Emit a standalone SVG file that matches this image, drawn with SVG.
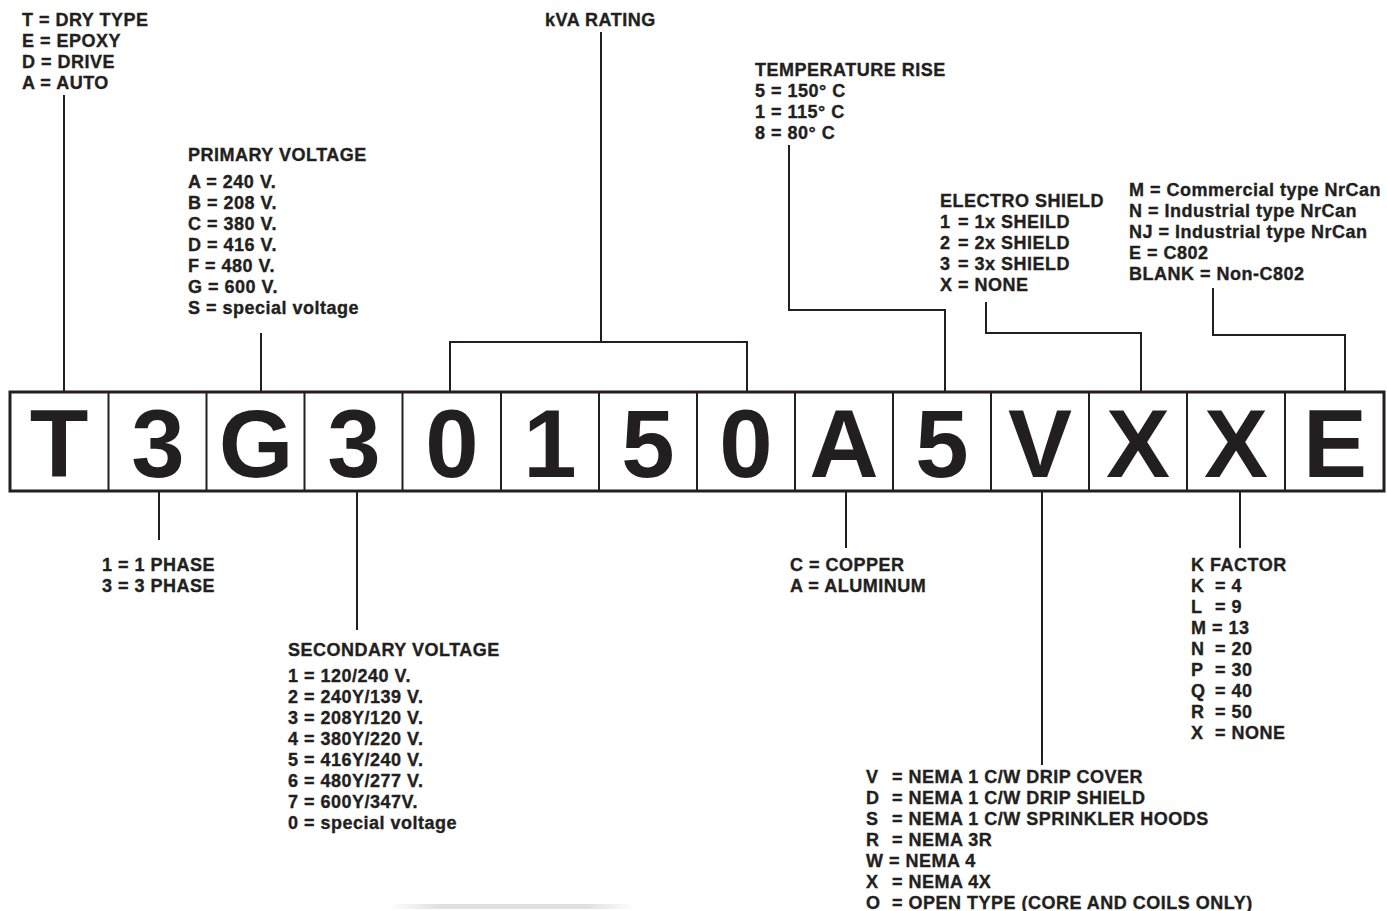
<svg xmlns="http://www.w3.org/2000/svg" width="1387" height="911" viewBox="0 0 1387 911">
<defs>
<linearGradient id="smudge" x1="0" y1="0" x2="1" y2="0">
<stop offset="0" stop-color="#d8d8d8" stop-opacity="0"/>
<stop offset="0.2" stop-color="#d8d8d8" stop-opacity="0.8"/>
<stop offset="0.8" stop-color="#d8d8d8" stop-opacity="0.8"/>
<stop offset="1" stop-color="#d8d8d8" stop-opacity="0"/>
</linearGradient>
</defs>
<style>
.t{font-family:"Liberation Sans",Arial,Helvetica,sans-serif;font-weight:bold;font-size:18px;letter-spacing:0.5px;fill:#231f20;stroke:#231f20;stroke-width:0.35px}
.big{font-family:"Liberation Sans",Arial,Helvetica,sans-serif;font-weight:bold;font-size:96px;fill:#231f20;text-anchor:middle}
.frame{fill:#fff;stroke:#231f20;stroke-width:3}
.div{stroke:#231f20;stroke-width:2}
.c{fill:none;stroke:#231f20;stroke-width:2}
</style>
<rect width="1387" height="911" fill="#fff"/>
<rect x="390" y="904" width="246" height="5" fill="url(#smudge)"/>

<g id="code-boxes">
<rect class="frame" x="10" y="392" width="1374" height="99"/>
<path class="div" d="M108.5 392V491M206.5 392V491M304.5 392V491M402.5 392V491M501 392V491M599 392V491M697 392V491M795 392V491M893 392V491M991 392V491M1089 392V491M1187 392V491M1285 392V491"/>
<text class="big" x="59" y="477">T</text>
<text class="big" x="158" y="477">3</text>
<text class="big" x="256" y="477">G</text>
<text class="big" x="354" y="477">3</text>
<text class="big" x="452" y="477">0</text>
<text class="big" x="550" y="477">1</text>
<text class="big" x="648" y="477">5</text>
<text class="big" x="746" y="477">0</text>
<text class="big" x="844" y="477">A</text>
<text class="big" x="942" y="477">5</text>
<text class="big" x="1040" y="477">V</text>
<text class="big" x="1138" y="477">X</text>
<text class="big" x="1236" y="477">X</text>
<text class="big" x="1335" y="477">E</text>
</g>

<g id="connectors">
<path class="c" d="M64 95V392"/>
<path class="c" d="M261 333V392"/>
<path class="c" d="M601 32V342M450 392V342H747V392"/>
<path class="c" d="M789 145V310H945V392"/>
<path class="c" d="M986 302V333H1141V392"/>
<path class="c" d="M1213 288V335H1345V392"/>
<path class="c" d="M159 491V540"/>
<path class="c" d="M357 491V630"/>
<path class="c" d="M846 491V548"/>
<path class="c" d="M1042 491V765"/>
<path class="c" d="M1240 491V548"/>
</g>

<g id="type">
<text class="t" x="22" y="26">T = DRY TYPE</text>
<text class="t" x="22" y="47">E = EPOXY</text>
<text class="t" x="22" y="68">D = DRIVE</text>
<text class="t" x="22" y="89">A = AUTO</text>
</g>

<g id="primary-voltage">
<text class="t" x="188" y="161">PRIMARY VOLTAGE</text>
<text class="t" x="188" y="188">A = 240 V.</text>
<text class="t" x="188" y="209">B = 208 V.</text>
<text class="t" x="188" y="230">C = 380 V.</text>
<text class="t" x="188" y="251">D = 416 V.</text>
<text class="t" x="188" y="272">F = 480 V.</text>
<text class="t" x="188" y="293">G = 600 V.</text>
<text class="t" x="188" y="314">S = special voltage</text>
</g>

<g id="kva-rating">
<text class="t" x="545" y="26">kVA RATING</text>
</g>

<g id="temperature-rise">
<text class="t" x="755" y="76">TEMPERATURE RISE</text>
<text class="t" x="755" y="97">5 = 150° C</text>
<text class="t" x="755" y="118">1 = 115° C</text>
<text class="t" x="755" y="139">8 = 80° C</text>
</g>

<g id="electro-shield">
<text class="t" x="940" y="207">ELECTRO SHIELD</text>
<text class="t" y="228"><tspan x="940">1</tspan><tspan x="958">= 1x SHEILD</tspan></text>
<text class="t" y="249"><tspan x="940">2</tspan><tspan x="958">= 2x SHIELD</tspan></text>
<text class="t" y="270"><tspan x="940">3</tspan><tspan x="958">= 3x SHIELD</tspan></text>
<text class="t" x="940" y="291">X = NONE</text>
</g>

<g id="efficiency">
<text class="t" x="1129" y="196">M = Commercial type NrCan</text>
<text class="t" x="1129" y="217">N = Industrial type NrCan</text>
<text class="t" x="1129" y="238">NJ = Industrial type NrCan</text>
<text class="t" x="1129" y="259">E = C802</text>
<text class="t" x="1129" y="280">BLANK = Non-C802</text>
</g>

<g id="phase">
<text class="t" x="102" y="571">1 = 1 PHASE</text>
<text class="t" x="102" y="592">3 = 3 PHASE</text>
</g>

<g id="secondary-voltage">
<text class="t" x="288" y="656">SECONDARY VOLTAGE</text>
<text class="t" x="288" y="682">1 = 120/240 V.</text>
<text class="t" x="288" y="703">2 = 240Y/139 V.</text>
<text class="t" x="288" y="724">3 = 208Y/120 V.</text>
<text class="t" x="288" y="745">4 = 380Y/220 V.</text>
<text class="t" x="288" y="766">5 = 416Y/240 V.</text>
<text class="t" x="288" y="787">6 = 480Y/277 V.</text>
<text class="t" x="288" y="808">7 = 600Y/347V.</text>
<text class="t" x="288" y="829">0 = special voltage</text>
</g>

<g id="conductor">
<text class="t" x="790" y="571">C = COPPER</text>
<text class="t" x="790" y="592">A = ALUMINUM</text>
</g>

<g id="k-factor">
<text class="t" x="1191" y="571">K FACTOR</text>
<text class="t" y="592"><tspan x="1191">K</tspan><tspan x="1215">= 4</tspan></text>
<text class="t" y="613"><tspan x="1191">L</tspan><tspan x="1215">= 9</tspan></text>
<text class="t" x="1191" y="634">M = 13</text>
<text class="t" y="655"><tspan x="1191">N</tspan><tspan x="1215">= 20</tspan></text>
<text class="t" y="676"><tspan x="1191">P</tspan><tspan x="1215">= 30</tspan></text>
<text class="t" y="697"><tspan x="1191">Q</tspan><tspan x="1215">= 40</tspan></text>
<text class="t" y="718"><tspan x="1191">R</tspan><tspan x="1215">= 50</tspan></text>
<text class="t" y="739"><tspan x="1191">X</tspan><tspan x="1215">= NONE</tspan></text>
</g>

<g id="enclosure">
<text class="t" y="783"><tspan x="866">V</tspan><tspan x="892">= NEMA 1 C/W DRIP COVER</tspan></text>
<text class="t" y="804"><tspan x="866">D</tspan><tspan x="892">= NEMA 1 C/W DRIP SHIELD</tspan></text>
<text class="t" y="825"><tspan x="866">S</tspan><tspan x="892">= NEMA 1 C/W SPRINKLER HOODS</tspan></text>
<text class="t" y="846"><tspan x="866">R</tspan><tspan x="892">= NEMA 3R</tspan></text>
<text class="t" x="866" y="867">W = NEMA 4</text>
<text class="t" y="888"><tspan x="866">X</tspan><tspan x="892">= NEMA 4X</tspan></text>
<text class="t" y="909"><tspan x="866">O</tspan><tspan x="892">= OPEN TYPE (CORE AND COILS ONLY)</tspan></text>
</g>
</svg>
